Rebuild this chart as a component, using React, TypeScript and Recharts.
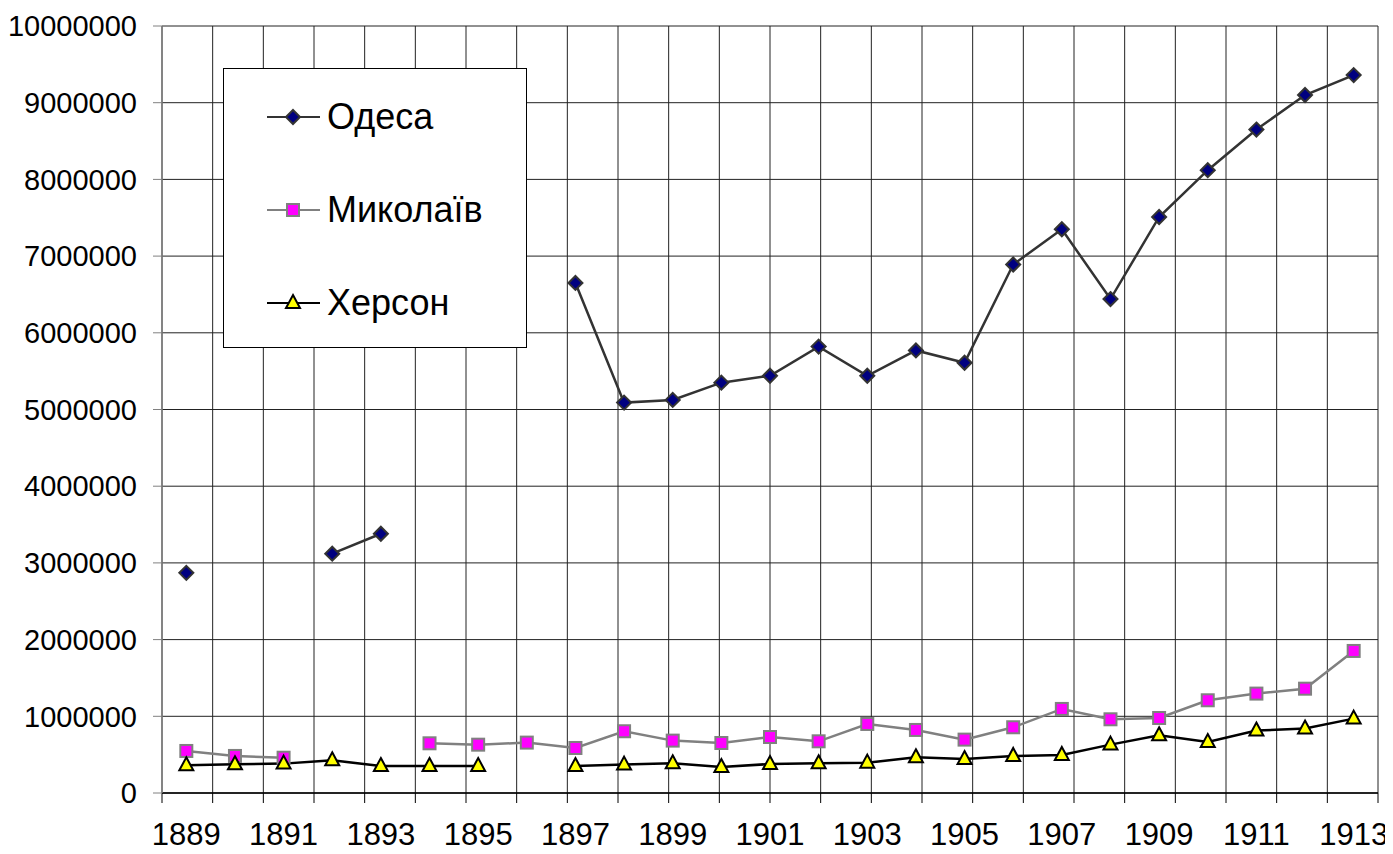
import React from 'react'
import {
  LineChart,
  Line,
  XAxis,
  YAxis,
  CartesianGrid,
  Legend
} from 'recharts'

const years = [
  '1889', '1890', '1891', '1892', '1893', '1894', '1895', '1896', '1897',
  '1898', '1899', '1900', '1901', '1902', '1903', '1904', '1905', '1906',
  '1907', '1908', '1909', '1910', '1911', '1912', '1913'
]

const odesa = [
  2870000, null, null, 3120000, 3380000, null, null, null, 6650000,
  5090000, 5125000, 5350000, 5440000, 5820000, 5440000, 5770000, 5610000, 6890000,
  7350000, 6440000, 7510000, 8120000, 8650000, 9100000, 9360000
]

const mykolaiv = [
  548000, 483000, 460000, null, null, 648000, 630000, 657000, 587000,
  805000, 683000, 652000, 730000, 674000, 900000, 822000, 696000, 857000,
  1096000, 961000, 978000, 1209000, 1296000, 1360000, 1852000
]

const kherson = [
  361000, 374000, 383000, 426000, 352000, 352000, 352000, null, 352000,
  370000, 387000, 339000, 378000, 387000, 396000, 466000, 443000, 483000,
  496000, 631000, 753000, 665000, 814000, 840000, 970000
]

const yTicks = [0, 1000000, 2000000, 3000000, 4000000, 5000000, 6000000, 7000000, 8000000, 9000000, 10000000]

// category boundaries for grid lines and the x axis tick marks
const boundaryTicks = Array.from({ length: years.length + 1 }, (_, i) => i)
const gridBoundaries = boundaryTicks.slice(0, years.length)

const chartData = years.map((year, i) => ({
  year,
  'Одеса': odesa[i],
  'Миколаїв': mykolaiv[i],
  'Херсон': kherson[i]
}))

const FONT = '"Liberation Sans", Arial, sans-serif'

type Shape = 'diamond' | 'square' | 'triangle'

const Marker = ({ shape, cx, cy }: { shape: Shape; cx: number; cy: number }) => {
  if (shape === 'diamond') {
    return (
      <polygon
        points={`${cx},${cy - 7} ${cx + 7},${cy} ${cx},${cy + 7} ${cx - 7},${cy}`}
        fill="#000080"
        stroke="#333333"
        strokeWidth={2}
      />
    )
  }
  if (shape === 'square') {
    return (
      <rect x={cx - 6} y={cy - 6} width={12} height={12} fill="#FF00FF" stroke="#808080" strokeWidth={2} />
    )
  }
  return (
    <polygon
      points={`${cx},${cy - 8} ${cx + 7},${cy + 5} ${cx - 7},${cy + 5}`}
      fill="#FFFF00"
      stroke="#000000"
      strokeWidth={2}
    />
  )
}

const makeDot = (shape: Shape) => (props: any) => {
  const { cx, cy, index } = props
  if (cx == null || cy == null || props.value == null) return <g key={`e-${shape}-${index}`} />
  return (
    <g key={`d-${shape}-${index}`}>
      <Marker shape={shape} cx={cx} cy={cy} />
    </g>
  )
}

const series: { key: string; color: string; shape: Shape }[] = [
  { key: 'Одеса', color: '#333333', shape: 'diamond' },
  { key: 'Миколаїв', color: '#808080', shape: 'square' },
  { key: 'Херсон', color: '#000000', shape: 'triangle' }
]

const LegendBox = () => (
  <div
    style={{
      width: 302,
      height: 278,
      border: '1px solid #000',
      background: '#fff',
      position: 'relative',
      fontFamily: FONT
    }}
  >
    {series.map((s, i) => (
      <div
        key={s.key}
        style={{
          position: 'absolute',
          left: 42,
          top: 48 + i * 93 - 20,
          height: 40,
          display: 'flex',
          alignItems: 'center'
        }}
      >
        <svg width={56} height={40}>
          <line x1={1} y1={20} x2={54} y2={20} stroke={s.color} strokeWidth={2} />
          <Marker shape={s.shape} cx={27} cy={20} />
        </svg>
        <span style={{ fontSize: 36, color: '#000', marginLeft: 5, lineHeight: '40px' }}>{s.key}</span>
      </div>
    ))}
  </div>
)

const NoLabel = () => <g />

const App: React.FC = () => {
  return (
    <div style={{ width: 1385, height: 846, background: '#fff' }}>
      <LineChart
        width={1385}
        height={846}
        data={chartData}
        margin={{ top: 18, right: 15, left: 0, bottom: 0 }}
        style={{ fontFamily: FONT }}
      >
        <XAxis
          xAxisId="cat"
          dataKey="year"
          scale="band"
          interval={1}
          tickLine={false}
          axisLine={false}
          tickSize={6}
          tickMargin={23}
          height={60}
          tick={{ fontSize: 31, fill: '#000' }}
        />
        <XAxis
          xAxisId="a"
          type="number"
          domain={[0, years.length]}
          ticks={boundaryTicks}
          interval={0}
          allowDataOverflow
          tick={<NoLabel />}
          tickSize={10}
          tickLine={{ stroke: '#000' }}
          axisLine={{ stroke: '#000', strokeWidth: 1.5 }}
          height={1}
        />
        <YAxis
          domain={[0, 10000000]}
          ticks={yTicks}
          interval={0}
          width={154}
          tickSize={9}
          tickMargin={16}
          tickFormatter={(v: number) => String(v)}
          tick={{ fontSize: 29, fill: '#000' }}
          tickLine={{ stroke: '#808080' }}
          axisLine={{ stroke: '#808080', strokeWidth: 1.5 }}
        />
        <CartesianGrid
          xAxisId="a"
          stroke="#222"
          strokeWidth={1}
          verticalValues={gridBoundaries}
        />
        <Legend
          layout="vertical"
          align="center"
          verticalAlign="middle"
          content={<LegendBox />}
          wrapperStyle={{ left: 215, top: 60, width: 304, height: 280 }}
        />
        {series.map(s => (
          <Line
            key={s.key}
            xAxisId="cat"
            type="linear"
            dataKey={s.key}
            stroke={s.color}
            strokeWidth={2.5}
            dot={makeDot(s.shape)}
            activeDot={false}
            isAnimationActive={false}
          />
        ))}
      </LineChart>
    </div>
  )
}

export default App
